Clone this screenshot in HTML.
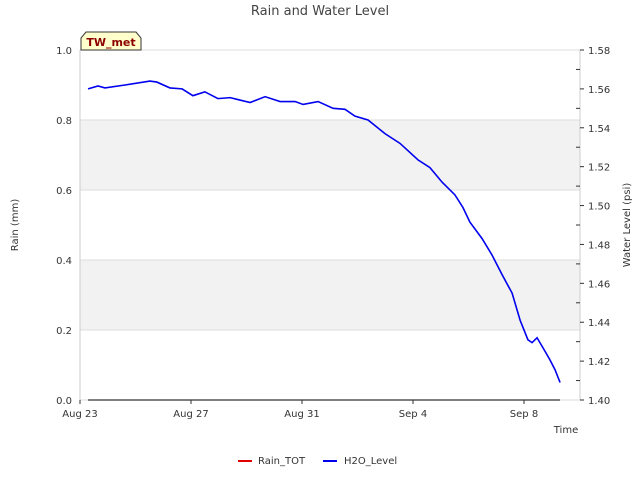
<!DOCTYPE html>
<html><head><meta charset="utf-8"><style>body{margin:0;background:#fff}svg{display:block;font-family:"DejaVu Sans","Liberation Sans",sans-serif}</style></head>
<body>
<svg id="c" width="640" height="480"></svg>
<script>
const days=[0.29,0.65,0.9,1.62,2.52,2.77,3.24,3.68,4.07,4.5,4.97,5.41,5.69,6.13,6.67,7.21,7.75,8.04,8.58,9.12,9.55,9.91,10.38,10.99,11.53,12.18,12.61,13.05,13.51,13.8,14.05,14.49,14.85,15.21,15.57,15.86,16.14,16.29,16.47,16.76,16.94,17.12,17.3];
const h2o=[1.560,1.5615,1.5605,1.562,1.564,1.5635,1.5605,1.560,1.5565,1.5585,1.555,1.5555,1.5545,1.553,1.556,1.5535,1.5535,1.552,1.5535,1.550,1.5495,1.546,1.544,1.537,1.532,1.5235,1.5195,1.512,1.5055,1.499,1.4915,1.483,1.4745,1.4645,1.455,1.441,1.431,1.4295,1.432,1.425,1.4205,1.4155,1.409];
const rainDays=[0.29,17.3];
const rain=[0,0];
const xTickDays=[0,4,8,12,16];
const xTickLabels=["Aug 23","Aug 27","Aug 31","Sep 4","Sep 8"];
const leftTicks=[0,0.2,0.4,0.6,0.8,1.0];
const rightTicks=[1.40,1.42,1.44,1.46,1.48,1.50,1.52,1.54,1.56,1.58];
const L=80,R=580,T=50,B=400;
const x=d=>L+d*27.75;
const yl=v=>B-(v/1.0)*(B-T);
const yr=v=>B-(v-1.40)/0.18*(B-T);
const svg=document.getElementById('c');const NS='http://www.w3.org/2000/svg';
function el(t,a,txt){const e=document.createElementNS(NS,t);for(const k in a)e.setAttribute(k,a[k]);if(txt!==undefined)e.textContent=txt;svg.appendChild(e);return e;}
let e;
e=el('text',{x:320,y:15,'text-anchor':'middle','font-size':13,fill:'#444'},'Rain and Water Level');


[[0.2,0.4],[0.6,0.8]].forEach(b=>{e=el('rect',{x:L,y:yl(b[1]),width:R-L,height:yl(b[0])-yl(b[1]),fill:'#f2f2f2'});

});
leftTicks.forEach(v=>{e=el('line',{x1:L,x2:R,y1:yl(v),y2:yl(v),stroke:'#ddd'});


e=el('text',{x:L-8,y:yl(v)+4,'text-anchor':'end','font-size':10,fill:'#333'},v.toFixed(1));

});
el('line',{x1:L,x2:L,y1:T,y2:B,stroke:'#ccc'});
el('line',{x1:R,x2:R,y1:T,y2:B,stroke:'#ccc'});
for(let v=1.40;v<=1.5801;v+=0.01){const major=Math.round(v*100)%2===0;el('line',{x1:R,x2:R-(major?0:4),y1:yr(v),y2:yr(v),stroke:'#333'});}
rightTicks.forEach(v=>{el('line',{x1:R,x2:R+4,y1:yr(v),y2:yr(v),stroke:'#333'});
e=el('text',{x:R+8,y:yr(v)+4,'font-size':10,fill:'#333'},v.toFixed(2));

});
xTickDays.forEach((d,i)=>{el('line',{x1:x(d),x2:x(d),y1:B,y2:B+4,stroke:'#333'});
e=el('text',{x:x(d),y:B+17,'text-anchor':'middle','font-size':10,fill:'#333'},xTickLabels[i]);

});
e=el('text',{x:566,y:433,'text-anchor':'middle','font-size':10,fill:'#333'},'Time');


e=el('text',{x:18,y:225,'text-anchor':'middle','font-size':10,fill:'#333',transform:'rotate(-90 18 225)'},'Rain (mm)');


e=el('text',{x:630,y:225,'text-anchor':'middle','font-size':10,fill:'#333',transform:'rotate(-90 630 225)'},'Water Level (psi)');


e=el('polyline',{points:rainDays.map((d,i)=>x(d)+','+yl(rain[i])).join(' '),fill:'none',stroke:'#333',"stroke-width":1.2});


e=el('polyline',{points:days.map((d,i)=>x(d)+','+yr(h2o[i])).join(' '),fill:'none',stroke:'#0000ee',"stroke-width":1.6});


e=el('path',{d:'M81,50 L81,38 L86,32 L136,32 L141,38 L141,50 Z',fill:'#ffffcc',stroke:'#333'});


e=el('text',{x:111,y:46,'text-anchor':'middle','font-size':11,'font-weight':'bold',fill:'#8b0000'},'TW_met');


e=el('line',{x1:238,x2:252,y1:461,y2:461,stroke:'#e00000','stroke-width':2});


e=el('text',{x:258,y:464,'font-size':10,fill:'#333'},'Rain_TOT');


e=el('line',{x1:323,x2:337,y1:461,y2:461,stroke:'#0000ee','stroke-width':2});


e=el('text',{x:344,y:464,'font-size':10,fill:'#333'},'H2O_Level');


</script>
</body></html>
